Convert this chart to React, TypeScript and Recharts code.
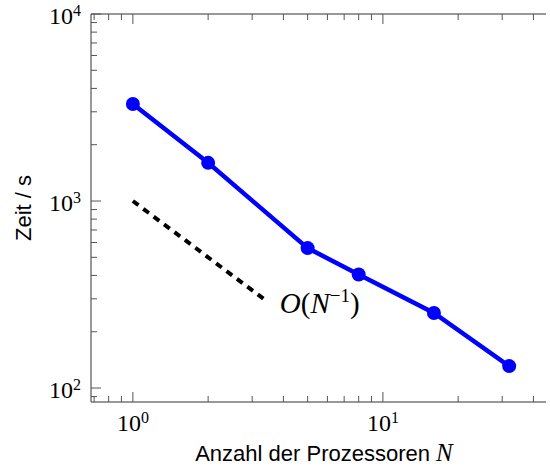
import { LineChart, Line, XAxis, YAxis, ReferenceLine } from 'recharts';

// measured runtimes
const procs = [1, 2, 5, 8, 16, 32];
const times = [3300, 1600, 560, 405, 252, 131];

// O(N^-1) guide
const refN = [1, 3.4];
const refT = [1000, 294];

const xTicks = [0.7, 0.8, 0.9, 1, 2, 3, 4, 5, 6, 7, 8, 9, 10, 20, 30, 40];
const yTicks = [
  90, 100, 200, 300, 400, 500, 600, 700, 800, 900,
  1000, 2000, 3000, 4000, 5000, 6000, 7000, 8000, 9000, 10000,
];
const xMajor = [1, 10];
const yMajor = [100, 1000, 10000];

const data = procs.map((n, i) => ({ n, t: times[i] }));
const refData = refN.map((n, i) => ({ n, t: refT[i] }));

const W = 600;
const H = 470;
const margin = { top: 14, right: 43, bottom: 67, left: 90 };
const plotTop = margin.top;
const plotRight = W - margin.right;

const SERIF = '"Liberation Serif", serif';
const SANS = '"Liberation Sans", Arial, sans-serif';
const TICK = '#555';
const FRAME = '#333';

const expOf = (v: number) => Math.round(Math.log10(v));

function Pow({ x, y, exp, anchor }: { x: number; y: number; exp: number; anchor: 'middle' | 'end' }) {
  return (
    <text x={x} y={y} textAnchor={anchor} fontFamily={SERIF} fontSize={24} fill="#000">
      <tspan>10</tspan>
      <tspan dy={-8} fontSize={16}>{exp}</tspan>
    </text>
  );
}

// bottom axis tick, mirrored on the top edge
function XTick(props: any) {
  const { x, y, payload } = props;
  const major = xMajor.includes(payload.value);
  const len = major ? 10 : 6;
  return (
    <g>
      <line x1={x} x2={x} y1={y} y2={y - len} stroke={TICK} strokeWidth={1} />
      <line x1={x} x2={x} y1={plotTop} y2={plotTop + len} stroke={TICK} strokeWidth={1} />
      {major && <Pow x={x} y={y + 29} exp={expOf(payload.value)} anchor="middle" />}
    </g>
  );
}

// left axis tick, mirrored on the right edge
function YTick(props: any) {
  const { x, y, payload } = props;
  const major = yMajor.includes(payload.value);
  const len = major ? 10 : 6;
  return (
    <g>
      <line x1={x} x2={x + len} y1={y} y2={y} stroke={TICK} strokeWidth={1} />
      <line x1={plotRight} x2={plotRight - len} y1={y} y2={y} stroke={TICK} strokeWidth={1} />
      {major && <Pow x={x - 10} y={y + 10} exp={expOf(payload.value)} anchor="end" />}
    </g>
  );
}

function refLabel(props: any) {
  const { x, y, index } = props;
  if (index !== refData.length - 1) return null;
  return (
    <text x={x + 14} y={y + 13} fontFamily={SERIF} fontSize={29} fill="#000">
      <tspan fontStyle="italic">O</tspan>
      <tspan>(</tspan>
      <tspan fontStyle="italic">N</tspan>
      <tspan dy={-11} fontSize={19}>−1</tspan>
      <tspan dy={11}>)</tspan>
    </text>
  );
}

export default function App() {
  return (
    <div style={{ position: 'absolute', left: 0, top: 0, width: 546, height: 470, overflow: 'hidden', background: '#fff' }}>
      <LineChart width={W} height={H} margin={margin}>
        <XAxis
          xAxisId="b"
          dataKey="n"
          type="number"
          scale="log"
          domain={[0.68, 49.7]}
          allowDataOverflow
          ticks={xTicks}
          interval={0}
          height={1}
          tickSize={0}
          tickMargin={0}
          axisLine={{ stroke: FRAME, strokeWidth: 1 }}
          tickLine={false}
          tick={<XTick />}
          label={({ viewBox }: any) => (
            <text
              x={viewBox.x + viewBox.width / 2}
              y={viewBox.y + 59}
              textAnchor="middle"
              fontFamily={SANS}
              fontSize={22}
              fill="#000"
            >
              Anzahl der Prozessoren{' '}
              <tspan fontFamily={SERIF} fontStyle="italic" fontSize={25}>N</tspan>
            </text>
          )}
        />
        <YAxis
          yAxisId="l"
          type="number"
          scale="log"
          domain={[84.2, 10000]}
          allowDataOverflow
          ticks={yTicks}
          interval={0}
          width={1}
          tickSize={0}
          tickMargin={0}
          axisLine={{ stroke: FRAME, strokeWidth: 1 }}
          tickLine={false}
          tick={<YTick />}
          label={({ viewBox }: any) => {
            const cx = 23;
            const cy = viewBox.y + viewBox.height / 2;
            return (
              <text
                x={cx}
                y={cy}
                transform={`rotate(-90 ${cx} ${cy})`}
                textAnchor="middle"
                dominantBaseline="central"
                fontFamily={SANS}
                fontSize={22}
                fill="#000"
              >
                Zeit / s
              </text>
            );
          }}
        />
        <ReferenceLine xAxisId="b" yAxisId="l" y={10000} stroke={FRAME} strokeWidth={1} />
        <Line
          xAxisId="b"
          yAxisId="l"
          data={refData}
          dataKey="t"
          type="linear"
          stroke="#000"
          strokeWidth={4}
          strokeDasharray="7 6"
          dot={false}
          label={refLabel}
          isAnimationActive={false}
        />
        <Line
          xAxisId="b"
          yAxisId="l"
          data={data}
          dataKey="t"
          type="linear"
          stroke="#0000ff"
          strokeWidth={4.5}
          dot={{ r: 7, fill: '#0000ff', stroke: '#0000ff', strokeWidth: 0 }}
          activeDot={false}
          isAnimationActive={false}
        />
      </LineChart>
    </div>
  );
}
